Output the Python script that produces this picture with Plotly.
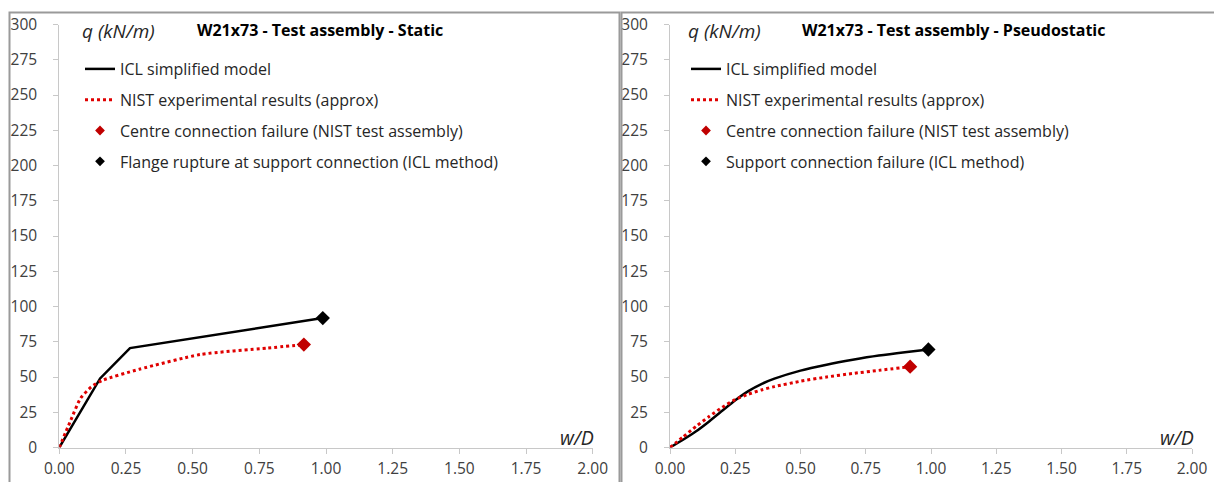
import plotly.graph_objects as go

# ---------------- data ----------------
# Left panel: W21x73 - Test assembly - Static
icl_static_x = [0.0, 0.153, 0.265, 0.65, 0.988]
icl_static_q = [0.0, 49.0, 70.5, 82.0, 91.8]
nist_static_x = [0.0, 0.04, 0.08, 0.12, 0.16, 0.30, 0.53, 0.78, 0.917]
nist_static_q = [0.0, 18.0, 35.0, 43.0, 47.5, 55.5, 66.0, 70.5, 73.0]

# Right panel: W21x73 - Test assembly - Pseudostatic
icl_pseudo_x = [0.0, 0.05, 0.10, 0.15, 0.20, 0.25, 0.30, 0.35, 0.40, 0.50, 0.60, 0.70, 0.80, 0.90, 0.99]
icl_pseudo_q = [0.0, 5.5, 11.5, 18.5, 26.0, 33.5, 40.0, 45.0, 48.8, 54.5, 58.7, 62.2, 65.2, 67.6, 69.5]
nist_pseudo_x = [0.0, 0.05, 0.10, 0.15, 0.20, 0.25, 0.30, 0.35, 0.40, 0.50, 0.60, 0.70, 0.80, 0.92]
nist_pseudo_q = [0.0, 7.5, 15.0, 22.0, 28.5, 34.0, 37.8, 40.8, 43.2, 47.0, 50.0, 52.5, 54.7, 57.3]

x_ticks = [0.0, 0.25, 0.5, 0.75, 1.0, 1.25, 1.5, 1.75, 2.0]
x_ticktext = ["0.00", "0.25", "0.50", "0.75", "1.00", "1.25", "1.50", "1.75", "2.00"]
y_ticks = [0, 25, 50, 75, 100, 125, 150, 175, 200, 225, 250, 275, 300]

titles = ["W21x73 - Test assembly - Static", "W21x73 - Test assembly - Pseudostatic"]
legend_names_left = ["ICL simplified model", "NIST experimental results (approx)",
                     "Centre connection failure (NIST test assembly)",
                     "Flange rupture at support connection (ICL method)"]
legend_names_right = ["ICL simplified model", "NIST experimental results (approx)",
                      "Centre connection failure (NIST test assembly)",
                      "Support connection failure (ICL method)"]

# ---------------- layout helpers ----------------
W, H = 1214, 482
FONT = "Open Sans"
def px(x):
    return x / W
def py(y):
    return 1 - y / H

BLACK = "#000000"
RED_LINE = "#e00000"
RED_MARK = "#c00000"
AXIS_C = "#c8c8c8"
TEXT_C = "#404040"

fig = go.Figure()

panels = [
    dict(xa="x", ya="y", leg="legend",
         icl=(icl_static_x, icl_static_q), nist=(nist_static_x, nist_static_q),
         names=legend_names_left, spline=False),
    dict(xa="x2", ya="y2", leg="legend2",
         icl=(icl_pseudo_x, icl_pseudo_q), nist=(nist_pseudo_x, nist_pseudo_q),
         names=legend_names_right, spline=True),
]

for i, p in enumerate(panels):
    shape = "spline" if p["spline"] else "linear"
    ix, iq = p["icl"]
    nx, nq = p["nist"]
    grp = f"p{i}"
    fig.add_trace(go.Scatter(x=ix, y=iq, mode="lines", name=p["names"][0],
                             line=dict(color=BLACK, width=2.5, shape=shape, smoothing=0.6),
                             xaxis=p["xa"], yaxis=p["ya"], legend=p["leg"],
                             legendgroup=grp + "a"))
    fig.add_trace(go.Scatter(x=nx, y=nq, mode="lines", name=p["names"][1],
                             line=dict(color=RED_LINE, width=3, dash="dot", shape="spline", smoothing=0.6),
                             xaxis=p["xa"], yaxis=p["ya"], legend=p["leg"],
                             legendgroup=grp + "b"))
    fig.add_trace(go.Scatter(x=[None], y=[None], mode="markers", name=p["names"][2],
                             marker=dict(symbol="diamond", size=7.5, color=RED_MARK),
                             xaxis=p["xa"], yaxis=p["ya"], legend=p["leg"],
                             legendgroup=grp + "c"))
    fig.add_trace(go.Scatter(x=[None], y=[None], mode="markers", name=p["names"][3],
                             marker=dict(symbol="diamond", size=7.5, color=BLACK),
                             xaxis=p["xa"], yaxis=p["ya"], legend=p["leg"],
                             legendgroup=grp + "d"))
    fig.add_trace(go.Scatter(x=[nx[-1]], y=[nq[-1]], mode="markers", showlegend=False,
                             marker=dict(symbol="diamond", size=11, color=RED_MARK),
                             xaxis=p["xa"], yaxis=p["ya"]))
    fig.add_trace(go.Scatter(x=[ix[-1]], y=[iq[-1]], mode="markers", showlegend=False,
                             marker=dict(symbol="diamond", size=11, color=BLACK),
                             xaxis=p["xa"], yaxis=p["ya"]))

ydom = [py(447.5), py(24.5)]
axis_common = dict(showline=True, linecolor=AXIS_C, linewidth=1, ticks="outside",
                   ticklen=5, tickcolor=AXIS_C, showgrid=False, zeroline=False,
                   automargin=False,
                   tickfont=dict(family=FONT, size=15.5, color=TEXT_C))
fig.update_layout(
    xaxis=dict(domain=[px(59.3), px(592.7)], range=[0, 2], tickvals=x_ticks,
               ticktext=x_ticktext, anchor="y", ticklabelstandoff=2, **axis_common),
    yaxis=dict(domain=ydom, range=[0, 300], tickvals=y_ticks, anchor="x",
               ticklabelstandoff=13, **axis_common),
    xaxis2=dict(domain=[px(670), px(1192)], range=[0, 2], tickvals=x_ticks,
                ticktext=x_ticktext, anchor="y2", ticklabelstandoff=2, **axis_common),
    yaxis2=dict(domain=ydom, range=[0, 300], tickvals=y_ticks, anchor="x2",
                ticklabelstandoff=13, **axis_common),
)

leg_common = dict(font=dict(family=FONT, size=16, color="#262626"),
                  bgcolor="rgba(0,0,0,0)", tracegroupgap=7, itemwidth=30,
                  xanchor="left", yanchor="top")
fig.update_layout(
    legend=dict(x=px(80), y=py(52), **leg_common),
    legend2=dict(x=px(686), y=py(52), **leg_common),
)

# panel frames
fig.add_shape(type="rect", xref="paper", yref="paper", x0=px(9.5), x1=px(619.5),
              y0=py(12.5), y1=py(495), line=dict(color="#9a9a9a", width=2))
fig.add_shape(type="rect", xref="paper", yref="paper", x0=px(621.5), x1=px(1220),
              y0=py(12.5), y1=py(495), line=dict(color="#9a9a9a", width=2))

annots = [
    (80, 31, "<i>q (kN/m)</i>", "left", 19, "#262626"),
    (195, 30, "<b>" + titles[0] + "</b>", "left", 16, "#000000"),
    (596, 437, "<i>w/D</i>", "right", 19.5, "#262626"),
    (686, 31, "<i>q (kN/m)</i>", "left", 19, "#262626"),
    (800, 30, "<b>" + titles[1] + "</b>", "left", 16, "#000000"),
    (1196, 437, "<i>w/D</i>", "right", 19.5, "#262626"),
]
for x, y, t, xa, s, c in annots:
    fig.add_annotation(x=px(x), y=py(y), xref="paper", yref="paper", text=t,
                       showarrow=False, xanchor=xa, yanchor="middle",
                       font=dict(family=FONT, size=s, color=c))

fig.update_layout(width=W, height=H, margin=dict(l=0, r=0, t=0, b=0, autoexpand=False),
                  paper_bgcolor="white", plot_bgcolor="white", showlegend=True)

fig.write_html("out.html")
